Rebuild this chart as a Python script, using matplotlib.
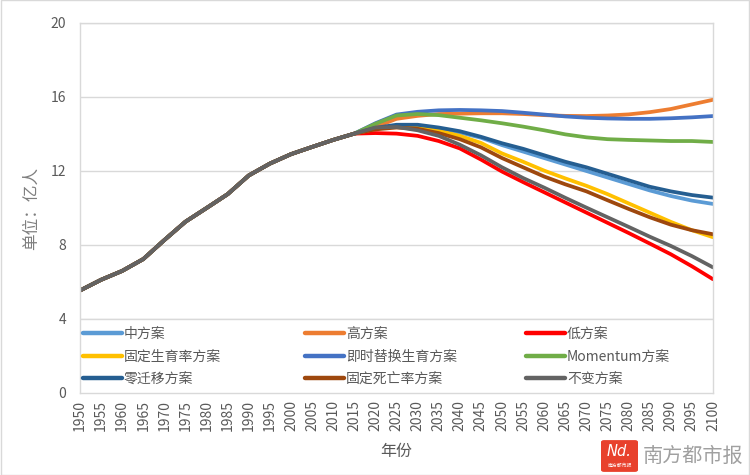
import matplotlib
matplotlib.use("Agg")
import matplotlib.pyplot as plt
from matplotlib.patches import FancyBboxPatch, Rectangle

plt.rcParams['font.family'] = ['Noto Sans CJK SC', 'DejaVu Sans']

hist_years = list(range(1950, 2016, 5))
hist_vals = [5.54, 6.12, 6.60, 7.24, 8.27, 9.26, 10.00, 10.75, 11.76, 12.40, 12.91, 13.30, 13.68, 14.02]

proj_years = list(range(2015, 2101, 5))

medium = [14.02, 14.30, 14.45, 14.45, 14.28, 14.08, 13.80, 13.40, 13.05, 12.70, 12.35, 12.00, 11.65, 11.30, 10.95, 10.65, 10.40, 10.22]
high = [14.02, 14.38, 14.82, 14.98, 15.08, 15.10, 15.12, 15.12, 15.08, 15.02, 14.98, 14.97, 15.00, 15.06, 15.18, 15.35, 15.60, 15.85]
low = [14.02, 14.05, 14.02, 13.90, 13.62, 13.22, 12.62, 11.97, 11.40, 10.85, 10.30, 9.75, 9.20, 8.65, 8.08, 7.50, 6.85, 6.15]
const_fert = [14.02, 14.28, 14.40, 14.35, 14.18, 13.90, 13.52, 12.95, 12.50, 12.02, 11.60, 11.20, 10.75, 10.25, 9.75, 9.25, 8.80, 8.42]
instant = [14.02, 14.58, 15.05, 15.20, 15.28, 15.30, 15.28, 15.24, 15.15, 15.05, 14.95, 14.88, 14.84, 14.82, 14.82, 14.85, 14.90, 14.97]
momentum = [14.02, 14.55, 15.00, 15.08, 15.02, 14.88, 14.74, 14.58, 14.40, 14.20, 13.98, 13.82, 13.72, 13.68, 13.65, 13.62, 13.62, 13.57]
zero_mig = [14.02, 14.33, 14.50, 14.50, 14.35, 14.15, 13.85, 13.50, 13.20, 12.85, 12.50, 12.20, 11.85, 11.50, 11.15, 10.90, 10.70, 10.56]
const_mort = [14.02, 14.25, 14.35, 14.28, 14.05, 13.72, 13.28, 12.70, 12.20, 11.70, 11.28, 10.90, 10.42, 9.95, 9.50, 9.10, 8.80, 8.58]
no_change = [14.02, 14.35, 14.38, 14.20, 13.90, 13.42, 12.85, 12.20, 11.62, 11.10, 10.55, 10.02, 9.50, 8.98, 8.45, 7.95, 7.40, 6.79]

series_names = ['中方案', '高方案', '低方案', '固定生育率方案', '即时替换生育方案',
                'Momentum方案', '零迁移方案', '固定死亡率方案', '不变方案']
series_vals = [medium, high, low, const_fert, instant, momentum, zero_mig, const_mort, no_change]
colors = ['#5B9BD5', '#ED7D31', '#FF0000', '#FFC000', '#4472C4',
          '#70AD47', '#255E91', '#9E480E', '#636363']

y_ticks = [0, 4, 8, 12, 16, 20]
x_ticks = list(range(1950, 2101, 5))

fig = plt.figure(figsize=(7.5, 4.75), dpi=100)
fig.patches.append(Rectangle((0.001, 0.001), 0.998, 0.998, transform=fig.transFigure,
                             fill=False, edgecolor='#d9d9d9', linewidth=1))
ax = fig.add_axes([80/750, 1-393/475, (713-80)/750, (393-23)/475])

full_years = hist_years + proj_years[1:]
handles = []
for name, vals, c in zip(series_names, series_vals, colors):
    h, = ax.plot(full_years, hist_vals + vals[1:], color=c, linewidth=2.7,
                 solid_capstyle='round', solid_joinstyle='round', label=name)
    handles.append(h)

ax.set_xlim(1950, 2100)
ax.set_ylim(0, 20)
ax.set_yticks(y_ticks)
ax.set_xticks(x_ticks)
ax.set_xticklabels([str(x) for x in x_ticks], rotation=90)
ax.tick_params(axis='both', length=0, colors='#595959', labelsize=10)
ax.tick_params(axis='x', pad=5)
ax.tick_params(axis='y', pad=10)
ax.grid(axis='y', color='#d9d9d9', linewidth=1)
ax.set_axisbelow(True)
for s in ax.spines.values():
    s.set_color('#d9d9d9')
    s.set_linewidth(1)

ax.set_ylabel('单位：亿人', color='#7f7f7f', fontsize=12, labelpad=8)
ax.set_xlabel('年份', color='#595959', fontsize=11.5, labelpad=9)

# legend frame spanning the bottom band of the plot
ax.add_patch(Rectangle((0, 0), 1, 74/370, transform=ax.transAxes, facecolor='white',
                       edgecolor='#d9d9d9', linewidth=1, zorder=3))
col_x = [(83-80)/633, (305-80)/633, (526-80)/633]
for ci in range(3):
    idx = [ci, ci + 3, ci + 6]
    leg = ax.legend([handles[i] for i in idx], [series_names[i] for i in idx],
                    loc='lower left', bbox_to_anchor=(col_x[ci], 7/370),
                    frameon=False, fontsize=10, handlelength=2.8, handletextpad=0.15,
                    borderaxespad=0, labelspacing=0.6, borderpad=0, labelcolor='#595959')
    for lh in leg.get_lines():
        lh.set_linewidth(3.2)
    if ci < 2:
        ax.add_artist(leg)

# watermark
fig.patches.append(FancyBboxPatch((604/750, 1-470/475), 31/750, 28/475,
                                  boxstyle='round,pad=0.004', transform=fig.transFigure,
                                  facecolor='#e8412c', edgecolor='none'))
fig.text(619.5/750, 1-452/475, 'Nd.', color='white', fontsize=10.5, ha='center', va='center',
         fontstyle='italic', family=['DejaVu Sans'])
fig.text(619.5/750, 1-465/475, '南方都市报', color='white', fontsize=3.5, ha='center', va='center')
fig.text(643/750, 1-456/475, '南方都市报', color='#a0a0a0', fontsize=14.5, ha='left', va='center')

fig.savefig('out.png', dpi=100)
